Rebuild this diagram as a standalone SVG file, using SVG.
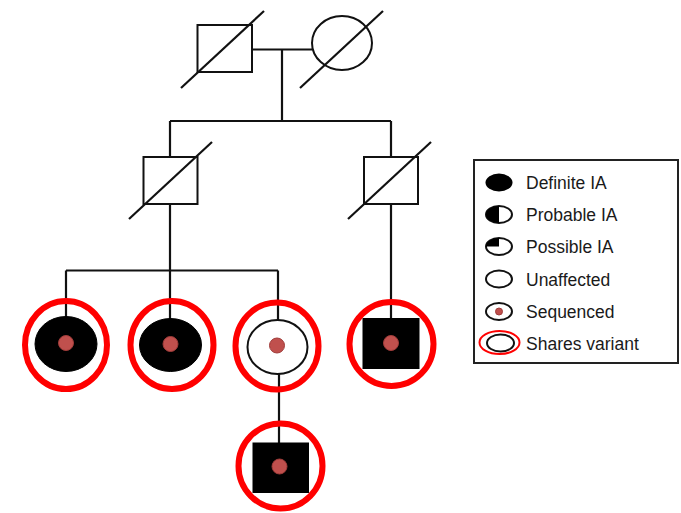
<svg xmlns="http://www.w3.org/2000/svg" width="681" height="513" viewBox="0 0 681 513">
  <style>
    .ln { stroke: #111; stroke-width: 2.2; fill: none; }
    .sym { stroke: #111; stroke-width: 2; fill: #fff; }
    .aff { fill: #000; stroke: #000; stroke-width: 1; }
    .ring { fill: none; stroke: #ff0000; stroke-width: 6; }
    .dot { fill: #c0504d; stroke: #a03c3a; stroke-width: 1; }
    .lbl { font-family: "Liberation Sans", Arial, sans-serif; font-size: 17.5px; fill: #1a1a1a; }
  </style>
  <rect width="681" height="513" fill="#fff"/>

  <!-- connectors -->
  <g id="connectors" class="ln">
    <line x1="252" y1="49.5" x2="312" y2="49.5"/>
    <line x1="282" y1="49.5" x2="282" y2="121"/>
    <line x1="170" y1="121" x2="391" y2="121"/>
    <line x1="170" y1="121" x2="170" y2="157"/>
    <line x1="391" y1="121" x2="391" y2="157"/>
    <line x1="170" y1="204" x2="170" y2="319"/>
    <line x1="66" y1="270.5" x2="278" y2="270.5"/>
    <line x1="66" y1="270.5" x2="66" y2="317"/>
    <line x1="278" y1="270.5" x2="278" y2="320"/>
    <line x1="391" y1="204" x2="391" y2="318"/>
    <line x1="279" y1="374" x2="279" y2="443"/>
  </g>

  <!-- generation I -->
  <g id="grandfather">
    <rect class="sym" x="197.5" y="25" width="54.5" height="47"/>
    <line class="ln" x1="181" y1="88" x2="264" y2="11"/>
  </g>
  <g id="grandmother">
    <ellipse class="sym" cx="342" cy="43" rx="30" ry="27"/>
    <line class="ln" x1="300" y1="88" x2="383" y2="11"/>
  </g>

  <!-- generation II -->
  <g id="father">
    <rect class="sym" x="143.5" y="157" width="54" height="47"/>
    <line class="ln" x1="129" y1="219" x2="212" y2="142"/>
  </g>
  <g id="uncle">
    <rect class="sym" x="364" y="157" width="54" height="47"/>
    <line class="ln" x1="348" y1="219" x2="431" y2="142"/>
  </g>

  <!-- generation III -->
  <g id="daughter1">
    <ellipse class="aff" cx="66" cy="344" rx="31" ry="27.5"/>
    <circle class="dot" cx="66" cy="343" r="7.5"/>
    <ellipse class="ring" cx="66" cy="345" rx="41" ry="44"/>
  </g>
  <g id="daughter2">
    <ellipse class="aff" cx="170.5" cy="345" rx="31" ry="26.5"/>
    <circle class="dot" cx="170.5" cy="344" r="7.5"/>
    <ellipse class="ring" cx="172" cy="345" rx="41.5" ry="44"/>
  </g>
  <g id="daughter3">
    <ellipse class="sym" cx="277.5" cy="347" rx="30" ry="27"/>
    <circle class="dot" cx="277" cy="345.5" r="7.5"/>
    <ellipse class="ring" cx="277" cy="346" rx="41.5" ry="43.5"/>
  </g>
  <g id="cousin">
    <rect class="aff" x="363" y="318.5" width="56" height="50"/>
    <circle class="dot" cx="391" cy="343" r="7.5"/>
    <ellipse class="ring" cx="391.5" cy="344" rx="42" ry="42"/>
  </g>

  <!-- generation IV -->
  <g id="grandson">
    <rect class="aff" x="253" y="443" width="55.5" height="49.5"/>
    <circle class="dot" cx="279.5" cy="466.5" r="7.5"/>
    <ellipse class="ring" cx="280.5" cy="466" rx="42" ry="42.5"/>
  </g>

  <!-- key -->
  <g id="legend">
    <rect x="474" y="160" width="204" height="203" fill="#fff" stroke="#222" stroke-width="2"/>
    <ellipse cx="499" cy="182.5" rx="13.5" ry="9" fill="#000"/>
    <text class="lbl" x="526" y="189">Definite IA</text>

    <ellipse class="sym" cx="499" cy="214.5" rx="13" ry="8.5"/>
    <path d="M499 206 A13 8.5 0 0 0 499 223 Z" fill="#000"/>
    <text class="lbl" x="526" y="221">Probable IA</text>

    <ellipse class="sym" cx="499" cy="246.5" rx="13" ry="8.5"/>
    <path d="M499 246.5 L486 246.5 A13 8.5 0 0 1 499 238 Z" fill="#000"/>
    <text class="lbl" x="526" y="253">Possible IA</text>

    <ellipse class="sym" cx="499" cy="279" rx="13" ry="8.5"/>
    <text class="lbl" x="526" y="285.5">Unaffected</text>

    <ellipse class="sym" cx="499" cy="311.5" rx="13" ry="8.5"/>
    <circle class="dot" cx="499" cy="311.5" r="3.5" stroke="none"/>
    <text class="lbl" x="526" y="318">Sequenced</text>

    <ellipse class="sym" cx="500.5" cy="343" rx="13.5" ry="8.5"/>
    <ellipse cx="499.5" cy="342.5" rx="20" ry="11.5" fill="none" stroke="#ff0000" stroke-width="2"/>
    <text class="lbl" x="526" y="350">Shares variant</text>
  </g>
</svg>
